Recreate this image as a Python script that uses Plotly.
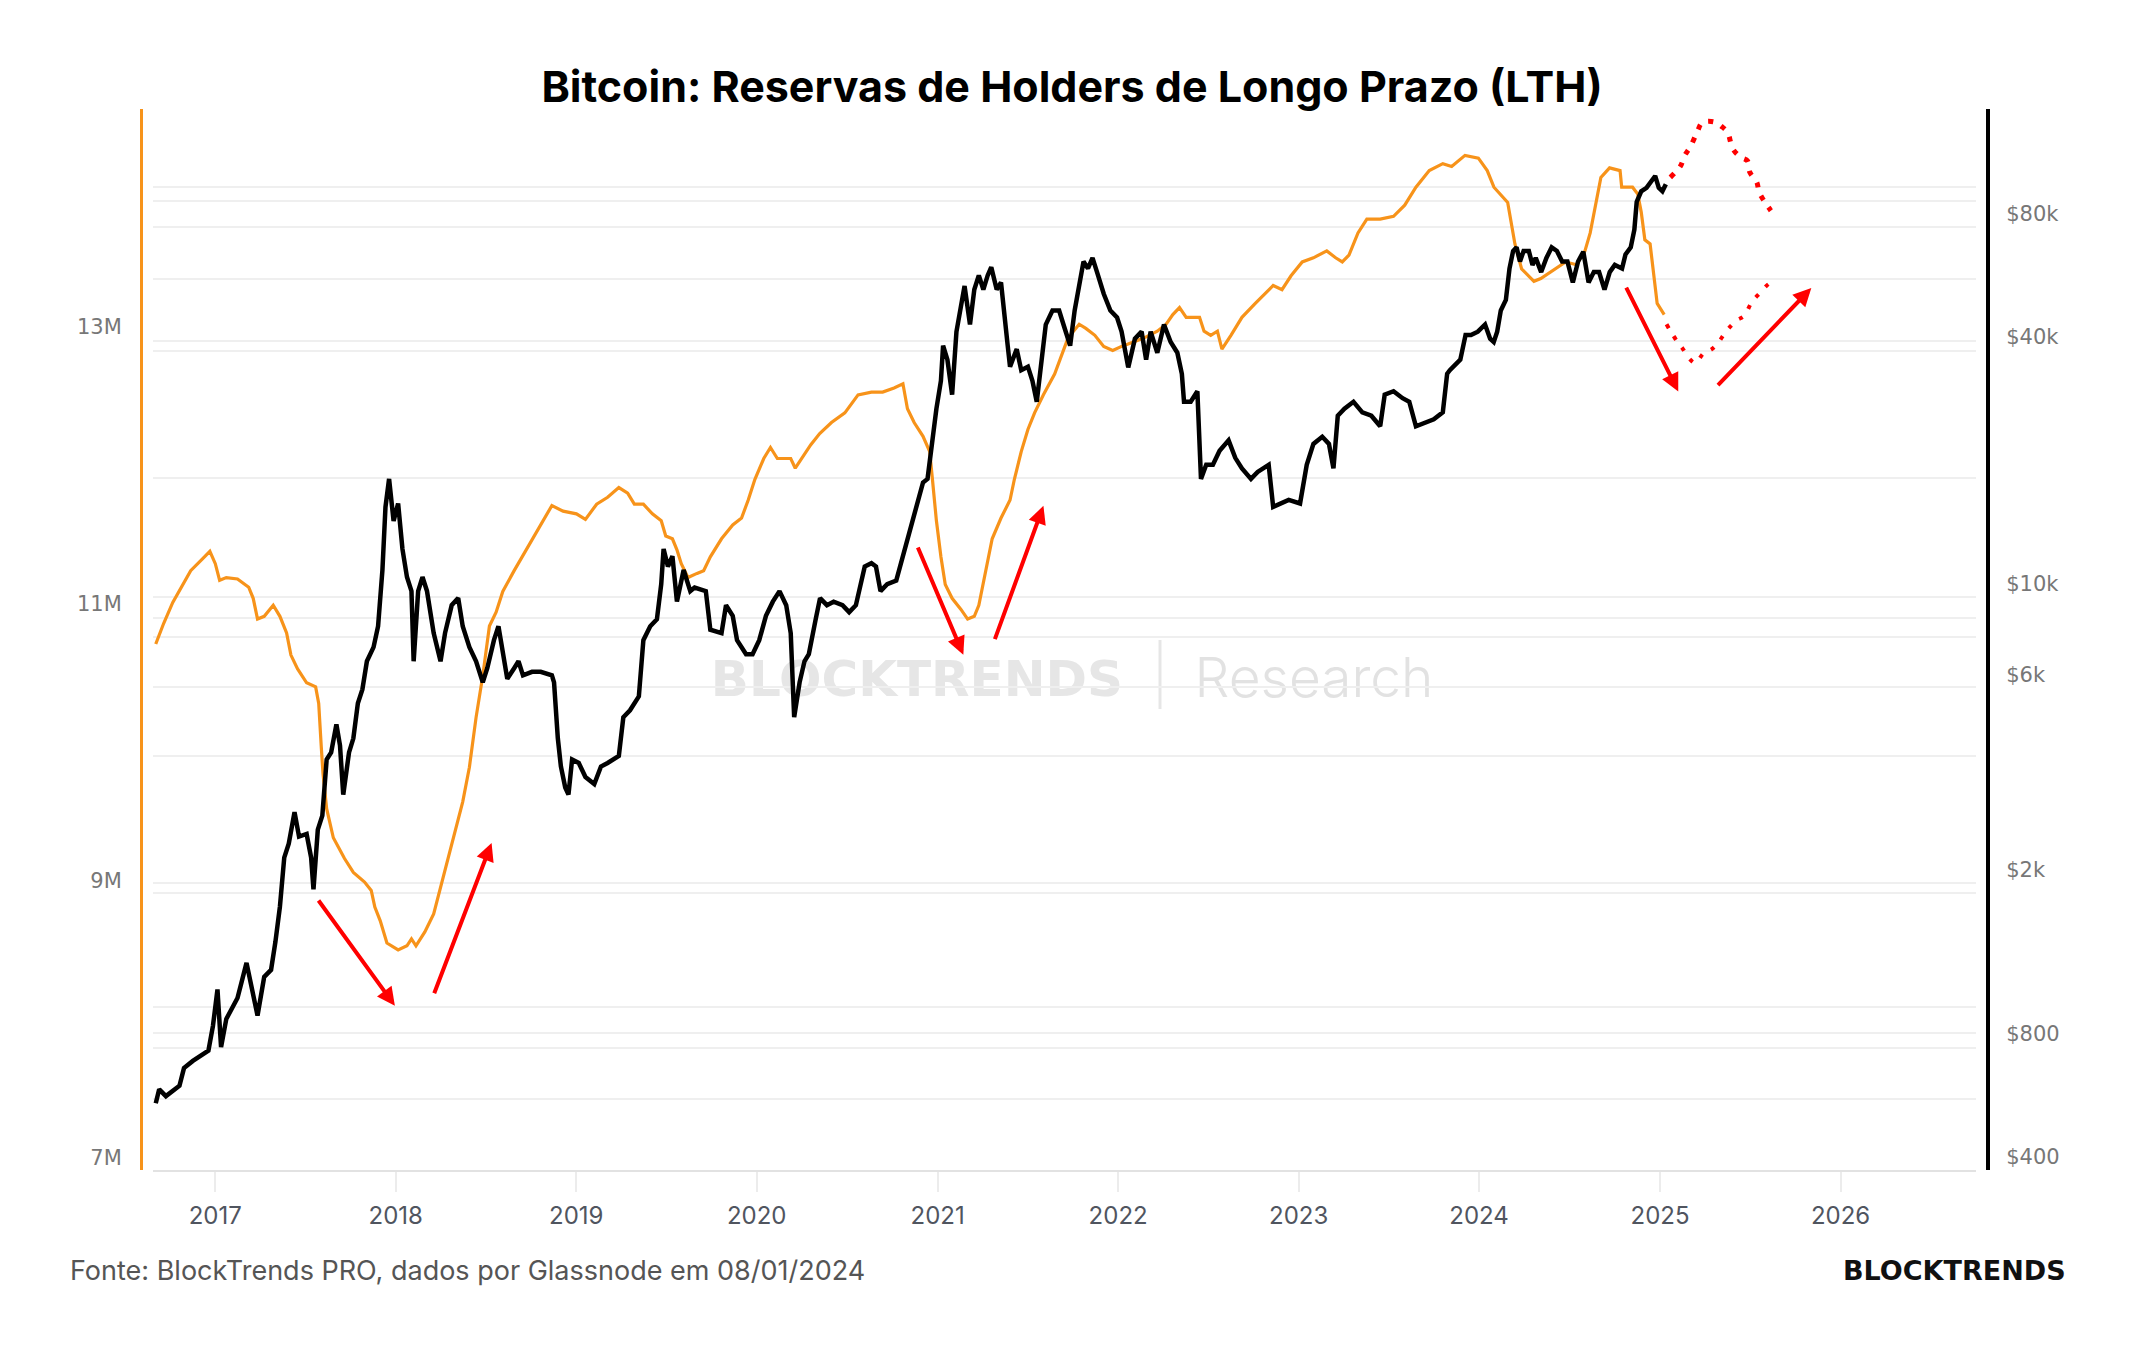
import datetime as dt
import plotly.graph_objects as go

# ---------------- data ----------------
# Long-term-holder supply (millions of BTC), (decimal year, value)
LTH_SUPPLY = [
    (2016.671, 10.71), (2016.715, 10.86), (2016.765, 11.01), (2016.814, 11.12), (2016.864, 11.24),
    (2016.925, 11.32), (2016.970, 11.38), (2017.000, 11.29), (2017.024, 11.17), (2017.061, 11.19),
    (2017.123, 11.18), (2017.185, 11.12), (2017.210, 11.04), (2017.234, 10.89), (2017.271, 10.91),
    (2017.321, 10.99), (2017.358, 10.91), (2017.395, 10.79), (2017.419, 10.63), (2017.456, 10.53),
    (2017.506, 10.43), (2017.556, 10.40), (2017.573, 10.28), (2017.587, 9.97), (2017.597, 9.77),
    (2017.617, 9.52), (2017.654, 9.31), (2017.716, 9.16), (2017.765, 9.06), (2017.827, 8.99),
    (2017.864, 8.93), (2017.884, 8.81), (2017.914, 8.71), (2017.951, 8.55), (2018.013, 8.50),
    (2018.062, 8.53), (2018.087, 8.58), (2018.112, 8.53), (2018.161, 8.63), (2018.210, 8.76),
    (2018.260, 9.01), (2018.310, 9.26), (2018.371, 9.57), (2018.408, 9.82), (2018.445, 10.18),
    (2018.482, 10.48), (2018.519, 10.84), (2018.556, 10.94), (2018.593, 11.09), (2018.656, 11.24),
    (2018.705, 11.35), (2018.767, 11.49), (2018.816, 11.60), (2018.865, 11.71), (2018.927, 11.67),
    (2019.001, 11.65), (2019.051, 11.61), (2019.113, 11.72), (2019.174, 11.77), (2019.236, 11.84),
    (2019.285, 11.80), (2019.322, 11.72), (2019.372, 11.72), (2019.422, 11.65), (2019.471, 11.60),
    (2019.496, 11.49), (2019.533, 11.47), (2019.558, 11.39), (2019.582, 11.29), (2019.619, 11.19),
    (2019.669, 11.22), (2019.706, 11.24), (2019.743, 11.34), (2019.805, 11.47), (2019.867, 11.57),
    (2019.916, 11.62), (2019.953, 11.75), (2019.990, 11.90), (2020.039, 12.05), (2020.076, 12.13),
    (2020.114, 12.05), (2020.151, 12.05), (2020.188, 12.05), (2020.213, 11.98), (2020.250, 12.05),
    (2020.299, 12.15), (2020.348, 12.23), (2020.413, 12.31), (2020.487, 12.38), (2020.560, 12.51),
    (2020.634, 12.53), (2020.696, 12.53), (2020.759, 12.56), (2020.808, 12.59), (2020.833, 12.41),
    (2020.870, 12.31), (2020.919, 12.21), (2020.956, 12.10), (2020.971, 11.90), (2020.993, 11.60),
    (2021.018, 11.34), (2021.042, 11.14), (2021.080, 11.04), (2021.129, 10.96), (2021.166, 10.89),
    (2021.203, 10.91), (2021.228, 10.99), (2021.265, 11.24), (2021.302, 11.47), (2021.351, 11.62),
    (2021.401, 11.75), (2021.425, 11.90), (2021.463, 12.10), (2021.500, 12.26), (2021.537, 12.38),
    (2021.586, 12.51), (2021.648, 12.66), (2021.722, 12.92), (2021.784, 13.02), (2021.821, 12.99),
    (2021.871, 12.94), (2021.920, 12.86), (2021.970, 12.83), (2022.019, 12.86), (2022.080, 12.89),
    (2022.142, 12.92), (2022.217, 12.97), (2022.266, 13.02), (2022.303, 13.09), (2022.340, 13.14),
    (2022.377, 13.07), (2022.414, 13.07), (2022.451, 13.07), (2022.476, 12.97), (2022.513, 12.94),
    (2022.550, 12.97), (2022.575, 12.84), (2022.625, 12.94), (2022.686, 13.07), (2022.760, 13.17),
    (2022.822, 13.25), (2022.859, 13.30), (2022.908, 13.27), (2022.958, 13.37), (2023.020, 13.47),
    (2023.082, 13.50), (2023.156, 13.55), (2023.205, 13.50), (2023.242, 13.47), (2023.279, 13.52),
    (2023.329, 13.68), (2023.378, 13.78), (2023.452, 13.78), (2023.526, 13.80), (2023.588, 13.88),
    (2023.650, 14.01), (2023.724, 14.13), (2023.799, 14.18), (2023.848, 14.16), (2023.922, 14.24),
    (2023.996, 14.22), (2024.045, 14.13), (2024.082, 14.01), (2024.158, 13.90), (2024.198, 13.60),
    (2024.235, 13.42), (2024.303, 13.33), (2024.341, 13.35), (2024.478, 13.47), (2024.538, 13.45),
    (2024.585, 13.55), (2024.614, 13.68), (2024.673, 14.08), (2024.721, 14.15), (2024.779, 14.13),
    (2024.788, 14.01), (2024.848, 14.01), (2024.877, 13.96), (2024.896, 13.83), (2024.916, 13.63),
    (2024.945, 13.60), (2024.964, 13.37), (2024.984, 13.17), (2025.023, 13.09),
]

# Bitcoin price (USD, log axis), (decimal year, value)
BTC_PRICE = [
    (2016.671, 540), (2016.690, 584), (2016.727, 562), (2016.802, 596), (2016.827, 658),
    (2016.876, 685), (2016.962, 726), (2016.987, 834), (2017.012, 1023), (2017.032, 740),
    (2017.061, 867), (2017.098, 938), (2017.123, 975), (2017.173, 1188), (2017.197, 1056),
    (2017.234, 884), (2017.271, 1098), (2017.309, 1142), (2017.333, 1336), (2017.358, 1628),
    (2017.382, 2145), (2017.407, 2321), (2017.439, 2771), (2017.464, 2414), (2017.506, 2450),
    (2017.531, 2145), (2017.544, 1796), (2017.568, 2510), (2017.593, 2716), (2017.617, 3722),
    (2017.642, 3873), (2017.671, 4535), (2017.691, 4028), (2017.709, 3057), (2017.741, 3873),
    (2017.765, 4193), (2017.790, 5104), (2017.815, 5520), (2017.840, 6463), (2017.877, 6997),
    (2017.902, 7868), (2017.926, 10788), (2017.943, 15382), (2017.963, 18000), (2017.988, 14208),
    (2018.013, 15679), (2018.037, 12141), (2018.062, 10373), (2018.087, 9585), (2018.099, 6463),
    (2018.124, 9585), (2018.148, 10373), (2018.173, 9585), (2018.210, 7571), (2018.248, 6463),
    (2018.273, 7571), (2018.310, 8856), (2018.346, 9216), (2018.371, 7868), (2018.408, 6997),
    (2018.445, 6463), (2018.482, 5743), (2018.507, 6215), (2018.544, 7276), (2018.569, 7868),
    (2018.593, 6723), (2018.618, 5857), (2018.656, 6215), (2018.680, 6463), (2018.705, 5972),
    (2018.755, 6092), (2018.803, 6092), (2018.865, 5972), (2018.877, 5743), (2018.898, 4193),
    (2018.915, 3579), (2018.939, 3180), (2018.957, 3057), (2018.977, 3722), (2019.014, 3650),
    (2019.051, 3373), (2019.100, 3244), (2019.137, 3579), (2019.174, 3650), (2019.236, 3796),
    (2019.261, 4719), (2019.298, 4908), (2019.347, 5308), (2019.372, 7276), (2019.410, 7868),
    (2019.447, 8187), (2019.471, 9968), (2019.484, 12141), (2019.508, 11005), (2019.533, 11663),
    (2019.558, 9034), (2019.595, 10788), (2019.632, 9585), (2019.656, 9775), (2019.718, 9585),
    (2019.743, 7717), (2019.805, 7567), (2019.830, 8856), (2019.867, 8343), (2019.891, 7276),
    (2019.941, 6723), (2019.977, 6723), (2020.014, 7276), (2020.051, 8343), (2020.089, 9034),
    (2020.126, 9585), (2020.163, 8856), (2020.188, 7567), (2020.207, 4719), (2020.237, 5743),
    (2020.264, 6463), (2020.288, 6723), (2020.326, 8187), (2020.350, 9216), (2020.388, 8856),
    (2020.425, 9034), (2020.474, 8856), (2020.511, 8515), (2020.548, 8856), (2020.573, 9968),
    (2020.597, 11005), (2020.634, 11215), (2020.659, 11005), (2020.684, 9585), (2020.721, 9968),
    (2020.771, 10169), (2020.808, 11663), (2020.845, 13128), (2020.882, 15382), (2020.919, 17643),
    (2020.944, 18000), (2020.968, 21909), (2020.993, 26692), (2021.018, 31232), (2021.030, 38050),
    (2021.054, 35160), (2021.080, 28887), (2021.104, 41153), (2021.129, 47250), (2021.149, 53200),
    (2021.179, 42840), (2021.203, 52130), (2021.228, 56440), (2021.253, 52130), (2021.277, 56440),
    (2021.297, 59120), (2021.327, 52130), (2021.351, 54270), (2021.388, 38050), (2021.401, 33810),
    (2021.438, 37310), (2021.463, 33140), (2021.500, 33810), (2021.525, 31232), (2021.549, 27760),
    (2021.574, 33810), (2021.599, 42840), (2021.636, 46350), (2021.673, 46350), (2021.697, 42840),
    (2021.734, 38050), (2021.759, 46350), (2021.784, 54270), (2021.808, 61010), (2021.833, 58680),
    (2021.858, 62270), (2021.883, 57510), (2021.920, 50910), (2021.957, 46350), (2021.994, 44550),
    (2022.019, 41153), (2022.056, 33660), (2022.093, 39570), (2022.130, 41153), (2022.155, 35160),
    (2022.180, 41153), (2022.217, 36560), (2022.254, 42840), (2022.291, 38820), (2022.328, 36560),
    (2022.353, 32490), (2022.365, 27760), (2022.402, 27760), (2022.439, 29450), (2022.459, 18000),
    (2022.488, 19480), (2022.525, 19480), (2022.562, 21070), (2022.612, 22350), (2022.649, 20260),
    (2022.686, 19100), (2022.736, 18000), (2022.773, 18720), (2022.834, 19480), (2022.859, 15382),
    (2022.896, 15680), (2022.945, 16000), (2023.008, 15680), (2023.045, 19480), (2023.082, 21909),
    (2023.131, 22800), (2023.168, 21909), (2023.193, 19100), (2023.217, 25670), (2023.254, 26692),
    (2023.304, 27760), (2023.353, 26160), (2023.403, 25670), (2023.452, 24190), (2023.477, 28887),
    (2023.526, 29450), (2023.576, 28320), (2023.613, 27760), (2023.650, 24190), (2023.699, 24680),
    (2023.749, 25150), (2023.799, 26160), (2023.823, 32490), (2023.838, 33140), (2023.873, 34460),
    (2023.896, 35160), (2023.925, 40370), (2023.955, 40370), (2023.993, 41153), (2024.033, 42840),
    (2024.061, 39570), (2024.081, 38820), (2024.100, 41153), (2024.120, 46350), (2024.148, 49170),
    (2024.168, 58680), (2024.188, 64740), (2024.207, 66060), (2024.226, 61010), (2024.246, 64740),
    (2024.275, 64740), (2024.295, 59850), (2024.313, 62270), (2024.343, 57510), (2024.372, 62270),
    (2024.401, 66060), (2024.430, 64740), (2024.459, 61010), (2024.488, 61010), (2024.518, 54270),
    (2024.547, 61010), (2024.576, 64480), (2024.605, 54270), (2024.634, 57510), (2024.663, 57510),
    (2024.693, 52130), (2024.722, 57510), (2024.750, 59850), (2024.790, 58680), (2024.809, 63510),
    (2024.838, 66060), (2024.858, 72930), (2024.871, 85360), (2024.896, 90530), (2024.925, 92280),
    (2024.955, 96040), (2024.973, 98670), (2024.993, 92280), (2025.013, 90530), (2025.032, 94150),
]

# Hand-drawn projections (red dotted)
PROJ_PRICE = [
    (2025.057, 97900), (2025.113, 104300), (2025.135, 110400), (2025.168, 116300), (2025.208, 127000),
    (2025.234, 133100), (2025.301, 133600), (2025.343, 130100), (2025.374, 126000), (2025.404, 114800),
    (2025.448, 109600), (2025.485, 107300), (2025.496, 101000), (2025.537, 95000), (2025.548, 90300),
    (2025.573, 86200), (2025.614, 81200),
]
PROJ_LTH = [
    (2025.036, 13.02), (2025.058, 12.97), (2025.103, 12.88), (2025.127, 12.84), (2025.163, 12.77),
    (2025.195, 12.74), (2025.241, 12.81), (2025.287, 12.84), (2025.324, 12.89), (2025.361, 12.96),
    (2025.394, 13.01), (2025.426, 13.05), (2025.466, 13.08), (2025.508, 13.18), (2025.549, 13.24),
    (2025.601, 13.31), (2025.643, 13.34),
]

# Red arrows: tail -> head, in (decimal year, LTH millions)
ARROW_TAILS = [(2017.566, 8.868), (2018.210, 8.176), (2020.887, 11.418),
               (2021.314, 10.734), (2024.809, 13.296), (2025.313, 12.570)]
ARROW_HEADS = [(2017.995, 8.097), (2018.531, 9.273), (2021.142, 10.633),
               (2021.586, 11.708), (2025.101, 12.535), (2025.838, 13.281)]

YEAR_TICKS = list(range(2017, 2027))
LEFT_TICKS = [7, 9, 11, 13]
LEFT_TICK_TEXT = ["7M", "9M", "11M", "13M"]
RIGHT_TICKS = [400, 800, 2000, 6000, 10000, 40000, 80000]
RIGHT_TICK_TEXT = ["$400", "$800", "$2k", "$6k", "$10k", "$40k", "$80k"]

TITLE = "Bitcoin: Reservas de Holders de Longo Prazo (LTH)"
SOURCE = "Fonte: BlockTrends PRO, dados por Glassnode em 08/01/2024"

# faint horizontal guide lines (in millions, left-axis units)
GRID_M = [14.01, 13.91, 13.72, 13.35, 12.90, 12.83, 11.91, 11.05, 10.90, 10.76,
          10.40, 9.90, 8.98, 8.91, 8.09, 7.90, 7.79, 7.42]

ORANGE = "#F7931A"
RED = "#FF0000"


def to_date(y):
    year = int(y)
    start = dt.datetime(year, 1, 1)
    end = dt.datetime(year + 1, 1, 1)
    return start + (end - start) * (y - year)


def split(pairs):
    return [to_date(p[0]) for p in pairs], [p[1] for p in pairs]


W, H = 2144, 1350

fig = go.Figure()

# invisible trace carrying the guide-line axis
fig.add_trace(go.Scatter(x=[to_date(2020)], y=[None], yaxis="y3", mode="lines",
                         showlegend=False, hoverinfo="skip"))

lx, ly = split(LTH_SUPPLY)
fig.add_trace(go.Scatter(x=lx, y=ly, mode="lines", yaxis="y",
                         line=dict(color=ORANGE, width=3.2), name="LTH"))

bx, by = split(BTC_PRICE)
fig.add_trace(go.Scatter(x=bx, y=by, mode="lines", yaxis="y2",
                         line=dict(color="#000000", width=4.5), name="BTC"))

px_, py_ = split(PROJ_PRICE)
fig.add_trace(go.Scatter(x=px_, y=py_, mode="lines", yaxis="y2",
                         line=dict(color=RED, width=5, dash="5px,9px", shape="spline"),
                         name="proj price"))

qx, qy = split(PROJ_LTH)
fig.add_trace(go.Scatter(x=qx, y=qy, mode="lines", yaxis="y",
                         line=dict(color=RED, width=4, dash="4px,10px", shape="spline"),
                         name="proj lth"))

annotations = []
for (ty, tm), (hy, hm) in zip(ARROW_TAILS, ARROW_HEADS):
    annotations.append(dict(
        x=to_date(hy), y=hm, ax=to_date(ty), ay=tm,
        xref="x", yref="y", axref="x", ayref="y",
        text="", showarrow=True, arrowhead=2, arrowsize=0.9,
        arrowwidth=4, arrowcolor=RED, standoff=0, startstandoff=0,
    ))

annotations.append(dict(
    text=SOURCE, x=68 / W, y=1 - 1270 / H, xref="paper", yref="paper",
    xanchor="left", yanchor="middle", showarrow=False,
    font=dict(family="Inter", size=27, color="#555555"),
))
annotations.append(dict(
    text="<b>BLOCKTRENDS</b>", x=2068 / W, y=1 - 1270 / H, xref="paper", yref="paper",
    xanchor="right", yanchor="middle", showarrow=False,
    font=dict(family="DejaVu Sans", size=27, color="#111111"),
))

shapes = [
    # watermark (kept under the data)
    dict(type="rect", xref="paper", yref="paper", x0=(917 - 250) / W, x1=(917 + 250) / W,
         y0=1 - 710 / H, y1=1 - 640 / H, line=dict(width=0), layer="below",
         label=dict(text="<b>BLOCKTRENDS</b>", textposition="middle center",
                    font=dict(family="DejaVu Sans", size=50, color="#e6e6e6"))),
    dict(type="rect", xref="paper", yref="paper", x0=(1314 - 160) / W, x1=(1314 + 160) / W,
         y0=1 - 710 / H, y1=1 - 640 / H, line=dict(width=0), layer="below",
         label=dict(text="Research", textposition="middle center",
                    font=dict(family="Inter", size=55, color="#e2e2e2", weight=300))),
    dict(type="line", xref="paper", yref="paper", x0=1160 / W, x1=1160 / W,
         y0=1 - 709 / H, y1=1 - 640 / H, line=dict(color="#e6e6e6", width=3), layer="below"),
]

y_domain = [1 - 1170 / H, 1 - 109 / H]

fig.update_layout(
    width=W, height=H,
    margin=dict(l=0, r=0, t=0, b=0),
    paper_bgcolor="white", plot_bgcolor="white",
    showlegend=False,
    title=dict(text=TITLE, x=0.5, xanchor="center", y=1 - 87 / H, yanchor="middle",
               font=dict(family="Inter", size=43, color="#000000", weight=700)),
    xaxis=dict(
        type="date", domain=[153 / W, 1976 / W],
        range=[dt.datetime(2016, 8, 28), dt.datetime(2026, 10, 2)],
        tickvals=[dt.datetime(y, 1, 1) for y in YEAR_TICKS],
        ticktext=[str(y) for y in YEAR_TICKS],
        ticks="outside", ticklen=20, tickwidth=2, tickcolor="#ececec",
        showgrid=False, zeroline=False, showline=True, linecolor="#e2e2e2", linewidth=2,
        tickfont=dict(family="Inter", size=24, color="#50555f"),
        ticklabelstandoff=3, anchor="y", automargin=False,
    ),
    yaxis=dict(
        domain=y_domain, range=[6.91, 14.575], anchor="free", position=141 / W,
        showline=True, linecolor=ORANGE, linewidth=3,
        tickvals=LEFT_TICKS, ticktext=LEFT_TICK_TEXT, ticks="",
        showgrid=False, zeroline=False, automargin=False,
        tickfont=dict(family="DejaVu Sans", size=21, color="#777777"),
        ticklabelstandoff=14,
    ),
    yaxis2=dict(
        type="log", overlaying="y", side="right", anchor="free", position=1988 / W,
        range=[2.5696, 5.1575], showline=True, linecolor="#000000", linewidth=4,
        tickvals=RIGHT_TICKS, ticktext=RIGHT_TICK_TEXT, ticks="",
        showgrid=False, zeroline=False, automargin=False,
        tickfont=dict(family="DejaVu Sans", size=21, color="#777777"),
        ticklabelstandoff=12,
    ),
    yaxis3=dict(
        overlaying="y", range=[6.91, 14.575], anchor="x", tickvals=GRID_M,
        showticklabels=False, showgrid=True, gridcolor="#efefef", gridwidth=2,
        showline=False, zeroline=False, ticks="", automargin=False,
    ),
    annotations=annotations,
    shapes=shapes,
)

fig.write_html("out.html")
